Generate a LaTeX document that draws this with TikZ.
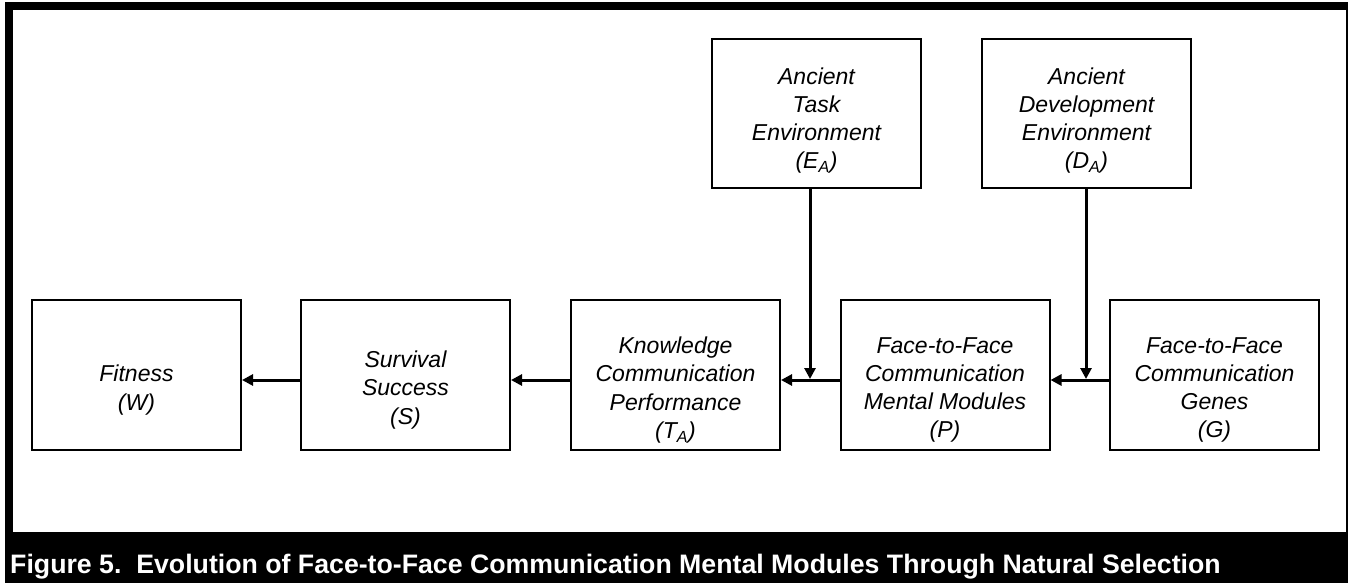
\documentclass[tikz,border=0pt]{standalone}
\usepackage{fontspec}
\setmainfont{Liberation Sans}
\usetikzlibrary{arrows.meta}

\tikzset{
  box/.style={draw, line width=2pt, minimum width=209pt, minimum height=150pt, inner sep=0pt},
  topbox/.style={box, minimum height=149pt},
  boxtext/.style={align=center, font=\fontsize{23}{28.3}\selectfont\itshape, inner sep=0pt, yshift=-15pt},
  topboxtext/.style={boxtext, yshift=8pt},
  arr/.style={line width=3pt, -{Triangle[length=11pt,width=11pt]}},
  framebar/.style={fill=black, draw=none}
}

\begin{document}
\begin{tikzpicture}[x=1pt, y=-1pt]
  \useasboundingbox (0,0) rectangle (1348,583);

  % outer frame and caption bar
  \fill[framebar] (5,2) rectangle (1348,10);
  \fill[framebar] (5,2) rectangle (13,583);
  \fill[framebar] (1346,2) rectangle (1348,583);
  \fill[framebar] (5,532) rectangle (1348,583);
  \node[anchor=base west, text=white, inner sep=0pt,
        font=\fontsize{26.7}{30}\selectfont\bfseries] (caption) at (10,573)
    {Figure 5.\ \ Evolution of Face-to-Face Communication Mental Modules Through Natural Selection};

  % main chain of boxes
  \node[box, label={[boxtext]center:{Fitness\\(W)}}] (w) at (136.5,375) {};
  \node[box, label={[boxtext]center:{Survival\\Success\\(S)}}] (s) at (405.5,375) {};
  \node[box, label={[boxtext]center:{Knowledge\\Communication\\Performance\\(T\textsubscript{A})}}] (t) at (675.5,375) {};
  \node[box, label={[boxtext]center:{Face-to-Face\\Communication\\Mental Modules\\(P)}}] (p) at (945,375) {};
  \node[box, label={[boxtext]center:{Face-to-Face\\Communication\\Genes\\(G)}}] (g) at (1214.5,375) {};

  % environment boxes
  \node[topbox, label={[topboxtext]center:{Ancient\\Task\\Environment\\(E\textsubscript{A})}}] (e) at (816.5,113.5) {};
  \node[topbox, label={[topboxtext]center:{Ancient\\Development\\Environment\\(D\textsubscript{A})}}] (d) at (1086.5,113.5) {};

  % connector rails
  \coordinate (row) at (0,380);
  \coordinate (row tip) at (0,379);
  \coordinate (ex) at (810,0);
  \coordinate (dx) at (1086,0);

  % horizontal arrows
  \draw[arr] (s.west |- row) -- (w.east |- row);
  \draw[arr] (t.west |- row) -- (s.east |- row);
  \draw[arr] (p.west |- row) -- (t.east |- row);
  \draw[arr] (g.west |- row) -- (p.east |- row);

  % vertical arrows
  \draw[arr] (ex |- e.south) -- (ex |- row tip);
  \draw[arr] (dx |- d.south) -- (dx |- row tip);
\end{tikzpicture}
\end{document}
